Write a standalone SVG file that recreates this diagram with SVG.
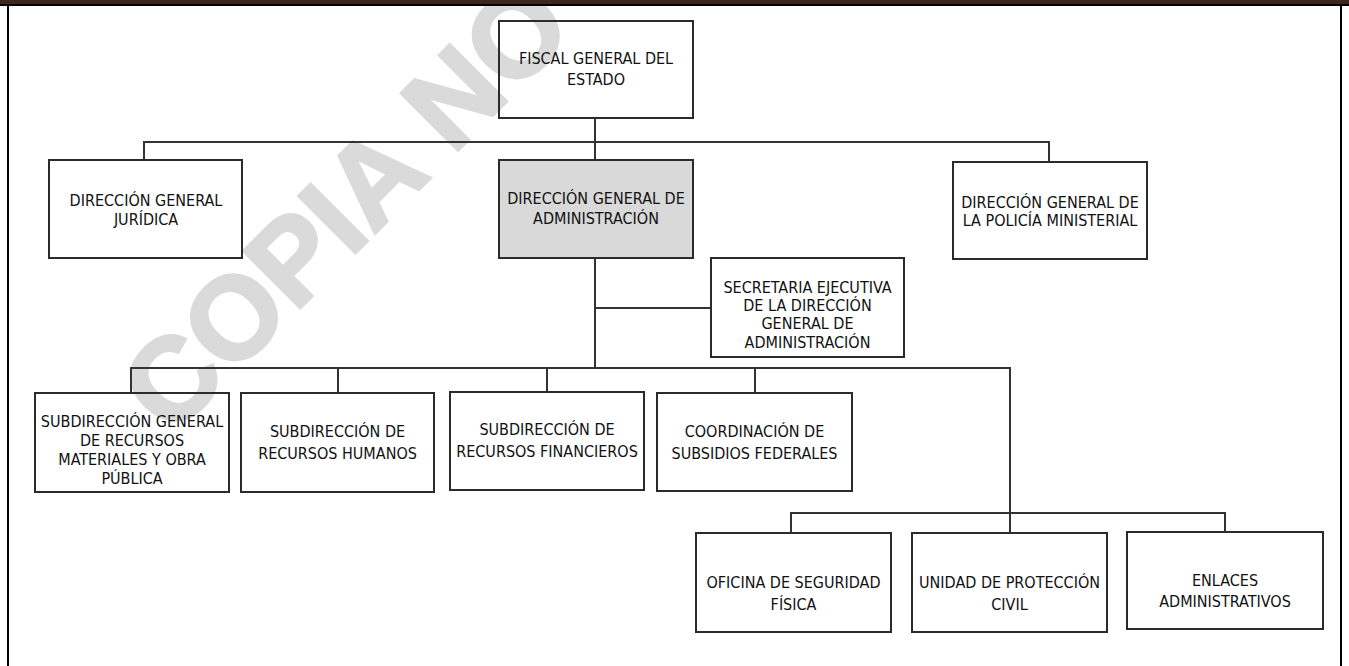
<svg xmlns="http://www.w3.org/2000/svg" width="1349" height="666" viewBox="0 0 1349 666">
  <style>
    .box { fill: none; stroke: #2b2b2b; stroke-width: 2; }
    .grey { fill: #d9d9d9; }
    .lbl { font-family: 'Liberation Sans Narrow', 'DejaVu Sans Condensed', 'Liberation Sans', sans-serif; font-stretch: condensed; font-size: 16px; fill: #111; text-anchor: middle; }
    .conn { fill: none; stroke: #333; stroke-width: 2; }
    .wm { font-family: 'Liberation Sans', sans-serif; font-weight: bold; font-size: 117px; fill: #dadada; stroke: #dadada; stroke-width: 3; text-anchor: middle; }
  </style>
  <rect x="0" y="0" width="1349" height="666" fill="#fff"/>
  <g id="watermark" transform="translate(344,205) rotate(-45)">
    <text class="wm" x="0" y="42">COPIA NO</text>
  </g>
  <g id="frame">
    <rect x="0" y="0" width="1349" height="4.5" fill="#3f2720"/>
    <line x1="0" y1="5" x2="1349" y2="5" stroke="#000" stroke-width="2"/>
    <line x1="8" y1="4" x2="8" y2="666" stroke="#000" stroke-width="2"/>
    <line x1="1341" y1="4" x2="1341" y2="666" stroke="#000" stroke-width="2"/>
  </g>
  <g id="connectors">
    <path class="conn" d="M595 118 V160"/>
    <path class="conn" d="M144 160 V142 H1049 V162"/>
    <path class="conn" d="M595 258 V368"/>
    <path class="conn" d="M595 308 H711"/>
    <path class="conn" d="M131 393 V368 H1010 V533"/>
    <path class="conn" d="M338 368 V393"/>
    <path class="conn" d="M547 368 V392"/>
    <path class="conn" d="M755 368 V393"/>
    <path class="conn" d="M791 533 V513 H1225 V532"/>
  </g>
  <g id="fiscal">
    <rect class="box" x="499" y="21" width="194" height="97"/>
    <text class="lbl" x="596" y="64">FISCAL GENERAL DEL</text>
    <text class="lbl" x="596" y="85">ESTADO</text>
  </g>
  <g id="juridica">
    <rect class="box" x="49" y="160" width="193" height="98"/>
    <text class="lbl" x="146" y="206">DIRECCIÓN GENERAL</text>
    <text class="lbl" x="146" y="225">JURÍDICA</text>
  </g>
  <g id="administracion">
    <rect class="box grey" x="499" y="160" width="194" height="98"/>
    <text class="lbl" x="596" y="204">DIRECCIÓN GENERAL DE</text>
    <text class="lbl" x="596" y="224">ADMINISTRACIÓN</text>
  </g>
  <g id="policia">
    <rect class="box" x="953" y="162" width="194" height="97"/>
    <text class="lbl" x="1050" y="208">DIRECCIÓN GENERAL DE</text>
    <text class="lbl" x="1050" y="226">LA POLICÍA MINISTERIAL</text>
  </g>
  <g id="secretaria">
    <rect class="box" x="711" y="258" width="193" height="99"/>
    <text class="lbl" x="807.5" y="293">SECRETARIA EJECUTIVA</text>
    <text class="lbl" x="807.5" y="311">DE LA DIRECCIÓN</text>
    <text class="lbl" x="807.5" y="329">GENERAL DE</text>
    <text class="lbl" x="807.5" y="348">ADMINISTRACIÓN</text>
  </g>
  <g id="recursos-materiales">
    <rect class="box" x="35" y="393" width="194" height="99"/>
    <text class="lbl" x="132" y="427">SUBDIRECCIÓN GENERAL</text>
    <text class="lbl" x="132" y="446">DE RECURSOS</text>
    <text class="lbl" x="132" y="465">MATERIALES Y OBRA</text>
    <text class="lbl" x="132" y="484">PÚBLICA</text>
  </g>
  <g id="recursos-humanos">
    <rect class="box" x="241" y="393" width="193" height="99"/>
    <text class="lbl" x="337.5" y="437">SUBDIRECCIÓN DE</text>
    <text class="lbl" x="337.5" y="459">RECURSOS HUMANOS</text>
  </g>
  <g id="recursos-financieros">
    <rect class="box" x="450" y="392" width="194" height="98"/>
    <text class="lbl" x="547" y="435">SUBDIRECCIÓN DE</text>
    <text class="lbl" x="547" y="457">RECURSOS FINANCIEROS</text>
  </g>
  <g id="subsidios">
    <rect class="box" x="657" y="393" width="195" height="98"/>
    <text class="lbl" x="754.5" y="437">COORDINACIÓN DE</text>
    <text class="lbl" x="754.5" y="459">SUBSIDIOS FEDERALES</text>
  </g>
  <g id="seguridad">
    <rect class="box" x="696" y="533" width="195" height="99"/>
    <text class="lbl" x="793.5" y="588">OFICINA DE SEGURIDAD</text>
    <text class="lbl" x="793.5" y="610">FÍSICA</text>
  </g>
  <g id="proteccion-civil">
    <rect class="box" x="912" y="533" width="195" height="99"/>
    <text class="lbl" x="1009.5" y="588">UNIDAD DE PROTECCIÓN</text>
    <text class="lbl" x="1009.5" y="610">CIVIL</text>
  </g>
  <g id="enlaces">
    <rect class="box" x="1127" y="532" width="196" height="97"/>
    <text class="lbl" x="1225" y="586">ENLACES</text>
    <text class="lbl" x="1225" y="607">ADMINISTRATIVOS</text>
  </g>
</svg>
